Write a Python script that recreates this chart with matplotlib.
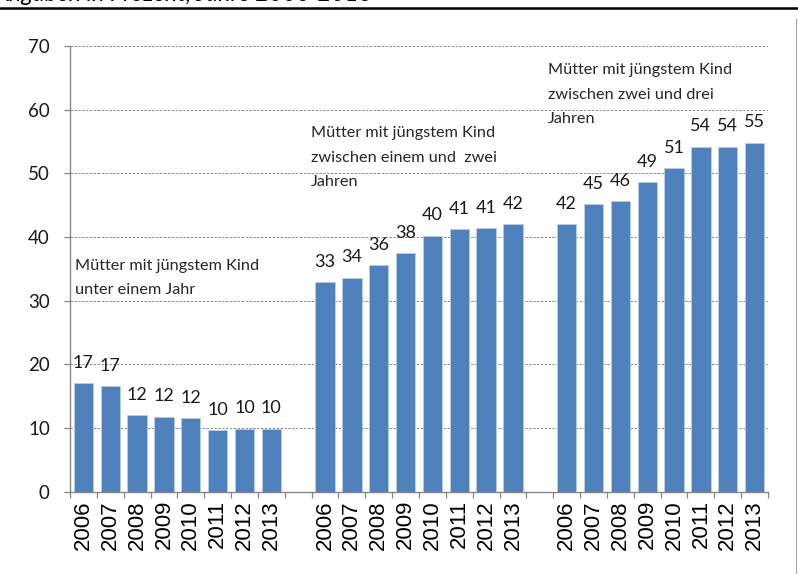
import numpy as np
import matplotlib
matplotlib.use('Agg')
import matplotlib.pyplot as plt
from matplotlib.lines import Line2D

years = ['2006', '2007', '2008', '2009', '2010', '2011', '2012', '2013']
unter_eins = [17.1, 16.6, 12.0, 11.8, 11.6, 9.7, 9.9, 9.9]
eins_bis_zwei = [32.9, 33.6, 35.6, 37.5, 40.2, 41.2, 41.4, 42.0]
zwei_bis_drei = [42.0, 45.2, 45.6, 48.6, 50.8, 54.2, 54.2, 54.8]
group_labels = [['Mütter mit jüngstem Kind', 'unter einem Jahr'],
                ['Mütter mit jüngstem Kind', 'zwischen einem und  zwei', 'Jahren'],
                ['Mütter mit jüngstem Kind', 'zwischen zwei und drei', 'Jahren']]
subtitle = 'Angaben in Prozent, Jahre 2006-2013'

plt.rcParams['font.family'] = ['Lato', 'DejaVu Sans']

# one empty category between the groups
values = unter_eins + [np.nan] + eins_bis_zwei + [np.nan] + zwei_bis_drei
labels = years + [''] + years + [''] + years
x = np.arange(len(values))

fig = plt.figure(figsize=(7.98, 5.74), dpi=100)
ax = fig.add_axes([0.0877, 0.1434, 0.8747, 0.7766])

ax.bar(x, values, width=0.72, color='#4F81BD', edgecolor='#B9CDE5', linewidth=0.6, zorder=3)

for xi, v in zip(x, values):
    if np.isnan(v):
        continue
    ax.annotate('%d' % round(v), (xi, v), xytext=(0, 11), textcoords='offset points',
                ha='center', va='baseline', fontsize=13, color='#1a1a1a')

ax.set_xlim(-0.5, len(values) - 0.5)
ax.set_ylim(0, 70)
ax.set_yticks(range(0, 71, 10))
ax.yaxis.grid(True, linestyle=(0, (2.5, 1.5)), color='#8c8c8c', linewidth=0.7, zorder=0)

ax.set_xticks(x)
ax.set_xticklabels(labels, rotation=90, fontsize=16, family=['Liberation Sans'], va='top')
ax.set_xticks(np.arange(-0.5, len(values)), minor=True)
ax.tick_params(axis='x', which='major', length=0, pad=6)
ax.tick_params(axis='x', which='minor', length=4.5, color='#868686', width=0.9)
ax.tick_params(axis='y', length=4.5, color='#868686', width=0.9, pad=10, labelsize=13.5, labelcolor='#1a1a1a')

for side in ['top', 'right']:
    ax.spines[side].set_visible(False)
for side in ['left', 'bottom']:
    ax.spines[side].set_color('#868686')
    ax.spines[side].set_linewidth(1.0)

# group captions, one text per line
anchors = [(-0.31, 36.6), (8.48, 57.4), (17.3, 67.3)]
for (gx, gy), lines in zip(anchors, group_labels):
    for i, line in enumerate(lines):
        ax.annotate(line, (gx, gy), xytext=(0, -17.6 * i), textcoords='offset points',
                    ha='left', va='top', fontsize=11.7, color='#262626')

# cut-off header line at the top
fig.text(-0.006, 1 - 1.0 / 574, subtitle, ha='left', va='baseline', fontsize=17, style='italic', color='black')
fig.add_artist(Line2D([0, 1], [1 - 8 / 574, 1 - 8 / 574], color='black', linewidth=1.8))
fig.add_artist(Line2D([796 / 798, 796 / 798], [0, 1 - 19 / 574], color='#a6a6a6', linewidth=0.8))

fig.savefig('out.png', dpi=100)
